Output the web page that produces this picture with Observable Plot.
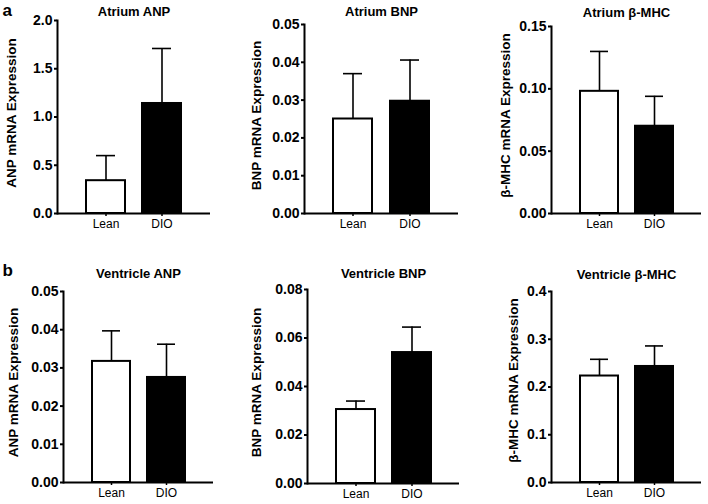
<!DOCTYPE html>
<html>
<head>
<meta charset="utf-8">
<script src="https://cdn.jsdelivr.net/npm/d3@7"></script>
<script src="https://cdn.jsdelivr.net/npm/@observablehq/plot@0.6"></script>
<style>
  body { margin: 0; background: #fff; }
  #fig { position: relative; width: 708px; height: 504px; background: #fff; }
  #fig svg { position: absolute; }
</style>
</head>
<body>
<div id="fig"></div>
<script>
// ---- data ----
const groups = ["Lean", "DIO"];
const titles = ["Atrium ANP", "Atrium BNP", "Atrium β-MHC", "Ventricle ANP", "Ventricle BNP", "Ventricle β-MHC"];
const yLabels = ["ANP mRNA Expression", "BNP mRNA Expression", "β-MHC mRNA Expression",
                 "ANP mRNA Expression", "BNP mRNA Expression", "β-MHC mRNA Expression"];
const means = [[0.34, 1.14], [0.025, 0.0297], [0.098, 0.070], [0.0317, 0.0275], [0.0305, 0.054], [0.223, 0.243]];
const upperErr = [[0.60, 1.71], [0.037, 0.0406], [0.130, 0.094], [0.0397, 0.0362], [0.034, 0.0645], [0.258, 0.286]];
const yTicks = [
  [0, 0.5, 1.0, 1.5, 2.0],
  [0, 0.01, 0.02, 0.03, 0.04, 0.05],
  [0, 0.05, 0.10, 0.15],
  [0, 0.01, 0.02, 0.03, 0.04, 0.05],
  [0, 0.02, 0.04, 0.06, 0.08],
  [0, 0.1, 0.2, 0.3, 0.4]
];
const tickDecimals = [1, 2, 2, 2, 2, 1];
const panelLetters = ["a", "b"];

// ---- layout (page pixels) ----
const layout = [
  {box: [0, 0, 232, 252],   frame: [57, 210, 20, 213],  titleBase: 15,  labelX: 15,  labelY: 112.5},
  {box: [232, 0, 238, 252], frame: [304, 458, 24, 213], titleBase: 15,  labelX: 260, labelY: 115},
  {box: [470, 0, 238, 252], frame: [551, 701, 26, 213], titleBase: 16,  labelX: 509, labelY: 115},
  {box: [0, 252, 232, 252],   frame: [63, 213, 291, 482],  titleBase: 277, labelX: 17,  labelY: 382},
  {box: [232, 252, 238, 252], frame: [307, 459, 289, 483], titleBase: 277, labelX: 260, labelY: 382},
  {box: [470, 252, 238, 252], frame: [551, 701, 291, 482], titleBase: 278, labelX: 517, labelY: 380}
];
const letterPos = [{x: 2, y: 15}, {x: 2, y: 275}];
const FONT = "'Liberation Sans', Arial, Helvetica, sans-serif";

const fig = document.getElementById("fig");

titles.forEach((title, i) => {
  const L = layout[i];
  const [bx, by, bw, bh] = L.box;
  const [fl, fr, ft, fb] = L.frame;
  const data = groups.map((g, j) => ({group: g, mean: means[i][j], upper: upperErr[i][j]}));
  const ticks = yTicks[i];
  const fmt = d3.format(`.${tickDecimals[i]}f`);

  const marks = [
    Plot.ruleX(data, {x: "group", y1: "mean", y2: "upper", stroke: "black", strokeWidth: 1.6}),
    Plot.tickY(data, {x: "group", y: "upper", stroke: "black", strokeWidth: 1.6, insetLeft: 10, insetRight: 10}),
    Plot.barY(data, {x: "group", y: "mean", fill: "group", stroke: "black", strokeWidth: 2}),
    Plot.axisY({ticks, tickFormat: fmt, tickSize: 3, tickPadding: 2, strokeWidth: 2,
                fontSize: 14, fontWeight: "bold", label: null}),
    Plot.axisX({tickSize: 3, tickPadding: 3, strokeWidth: 1.5, fontSize: 12, label: null}),
    Plot.frame({anchor: "left", strokeWidth: 2}),
    Plot.ruleY([0], {strokeWidth: 2}),
    Plot.text([title], {frameAnchor: "top", dy: L.titleBase - ft, lineAnchor: "bottom",
                        fontSize: 13, fontWeight: "bold"}),
    Plot.text([yLabels[i]], {frameAnchor: "top-left", dx: L.labelX - fl, dy: L.labelY - ft,
                             rotate: -90, textAnchor: "middle", lineAnchor: "bottom",
                             fontSize: 13.5, fontWeight: "bold"})
  ];
  if (i % 3 === 0) {
    const lp = letterPos[i / 3];
    marks.push(Plot.text([panelLetters[i / 3]], {frameAnchor: "top-left", dx: lp.x - fl, dy: lp.y - ft,
      textAnchor: "start", lineAnchor: "bottom", fontSize: 17, fontWeight: "bold"}));
  }

  const svg = Plot.plot({
    width: bw,
    height: bh,
    marginLeft: fl - bx,
    marginRight: bx + bw - fr,
    marginTop: ft - by,
    marginBottom: by + bh - fb,
    style: {fontFamily: FONT, color: "black", background: "transparent", overflow: "visible"},
    x: {domain: groups, paddingInner: 0.31, paddingOuter: 0.5},
    y: {domain: [0, ticks[ticks.length - 1]]},
    color: {domain: groups, range: ["white", "black"]},
    marks
  });
  svg.style.left = bx + "px";
  svg.style.top = by + "px";
  fig.appendChild(svg);
});
</script>
</body>
</html>
